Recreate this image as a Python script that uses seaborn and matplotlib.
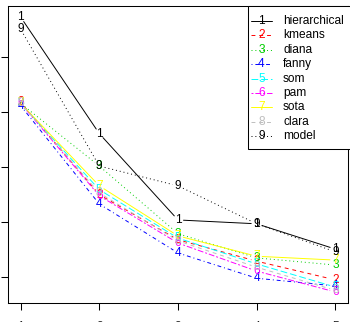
import numpy as np
import pandas as pd
import matplotlib.pyplot as plt
from matplotlib.lines import Line2D
from matplotlib.patches import Rectangle
import seaborn as sns

sns.set_style("white")
plt.rcParams['font.family'] = ['Liberation Sans', 'DejaVu Sans']

# values (one list per method, x = 1..5)
x_vals = [1, 2, 3, 4, 5]
methods = ["hierarchical", "kmeans", "diana", "fanny", "som", "pam", "sota", "clara", "model"]
hierarchical = [5.73, 3.61, 2.04, 1.97, 1.51]
kmeans = [4.18, 2.50, 1.68, 1.29, 0.95]
diana = [4.16, 3.02, 1.79, 1.35, 1.22]
fanny = [4.12, 2.33, 1.44, 0.98, 0.84]
som = [4.16, 2.59, 1.71, 1.24, 0.82]
pam = [4.16, 2.48, 1.62, 1.11, 0.73]
sota = [4.16, 2.66, 1.75, 1.38, 1.31]
clara = [4.16, 2.53, 1.66, 1.18, 0.76]
model = [5.51, 3.02, 2.66, 1.97, 1.46]
series = [hierarchical, kmeans, diana, fanny, som, pam, sota, clara, model]

colors = ["black", "#FF0000", "#00CD00", "#0000FF", "#00FFFF",
          "#FF00FF", "#FFFF00", "#BEBEBE", "black"]
dash_styles = ["", (4, 4), (1, 3), (1, 3, 4, 3), (7, 3), (2, 2, 6, 2), "", (4, 4), (1, 3)]

W, H = 350, 322
fig = plt.figure(figsize=(W / 100, H / 100), dpi=100)
ax = fig.add_axes([8 / W, (H - 303) / H, 340 / W, 297 / H])

allv = np.concatenate(series)
rng = allv.max() - allv.min()
ax.set_xlim(0.84, 5.16)
ax.set_ylim(allv.min() - 0.04 * rng, allv.max() + 0.04 * rng)

# R type="b": segments stop short of the point labels
gap = 5.5
rows = []
for name, vals in zip(methods, series):
    for j in range(len(x_vals) - 1):
        p0 = ax.transData.transform((x_vals[j], vals[j]))
        p1 = ax.transData.transform((x_vals[j + 1], vals[j + 1]))
        d = p1 - p0
        L = np.hypot(*d)
        if L <= 2 * gap:
            continue
        q0 = ax.transData.inverted().transform(p0 + d / L * gap)
        q1 = ax.transData.inverted().transform(p1 - d / L * gap)
        seg = f"{name}_{j}"
        rows.append((name, seg, q0[0], q0[1]))
        rows.append((name, seg, q1[0], q1[1]))
df = pd.DataFrame(rows, columns=["method", "seg", "x", "y"])

sns.lineplot(data=df, x="x", y="y", hue="method", style="method", units="seg",
             estimator=None, sort=False, palette=dict(zip(methods, colors)),
             dashes=dict(zip(methods, dash_styles)), hue_order=methods,
             style_order=methods, linewidth=0.7, legend=False, ax=ax)

for i, vals in enumerate(series):
    for xv, yv in zip(x_vals, vals):
        ax.text(xv, yv, str(i + 1), color=colors[i], ha="center", va="center",
                fontsize=8.6, zorder=3 + i)

ax.set_xlim(0.84, 5.16)
ax.set_ylim(allv.min() - 0.04 * rng, allv.max() + 0.04 * rng)
ax.set_xticks(x_vals)
ax.set_yticks([1, 2, 3, 4, 5])
ax.set_yticklabels(["1", "2", "3", "4", "5"], rotation=90, va="center")
ax.tick_params(direction="out", length=5.2, width=0.75, color="black",
               labelsize=8.6, pad=8, left=True, bottom=True)
ax.set_xlabel("")
ax.set_ylabel("")
for sp in ax.spines.values():
    sp.set_color("black")
    sp.set_linewidth(0.75)

# legend box, R style (drawn in pixel positions of the figure)
def fx(px):
    return px / W

def fy(py):
    return 1 - py / H

fig.patches.append(Rectangle((fx(248), fy(149)), fx(110), 143 / H, transform=fig.transFigure,
                             facecolor="white", edgecolor="black", linewidth=0.75, zorder=20))
for i, name in enumerate(methods):
    yy = 21 + 14.4 * i
    ln = Line2D([fx(251), fx(272)], [fy(yy), fy(yy)], transform=fig.transFigure,
                color=colors[i], linewidth=0.7, zorder=21)
    if dash_styles[i]:
        ln.set_dashes(dash_styles[i])
    fig.lines.append(ln)
    fig.text(fx(261.5), fy(yy), str(i + 1), color=colors[i], ha="center", va="center",
             fontsize=8.6, zorder=22)
    fig.text(fx(283), fy(yy), name, color="black", ha="left", va="center",
             fontsize=8.6, zorder=22)

fig.savefig("out.png", dpi=100, facecolor="white")
